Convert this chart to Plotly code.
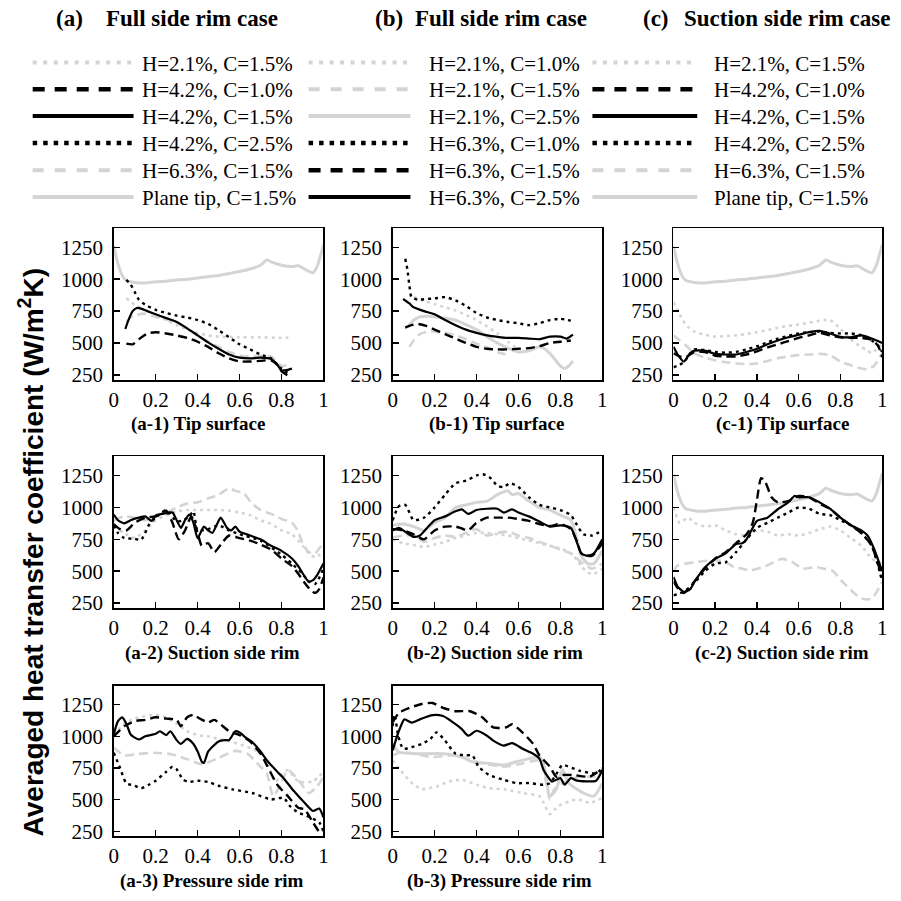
import plotly.graph_objects as go

# ---------------- data ----------------
X_TICKS = [0, 0.2, 0.4, 0.6, 0.8, 1]
X_TICK_TEXT = ["0", "0.2", "0.4", "0.6", "0.8", "1"]
Y_TICKS = [250, 500, 750, 1000, 1250]
Y_TICK_TEXT = ["250", "500", "750", "1000", "1250"]

LEGEND_A = ["H=2.1%, C=1.5%", "H=4.2%, C=1.0%", "H=4.2%, C=1.5%",
            "H=4.2%, C=2.5%", "H=6.3%, C=1.5%", "Plane tip, C=1.5%"]
LEGEND_B = ["H=2.1%, C=1.0%", "H=2.1%, C=1.5%", "H=2.1%, C=2.5%",
            "H=6.3%, C=1.0%", "H=6.3%, C=1.5%", "H=6.3%, C=2.5%"]
LEGEND_C = ["H=2.1%, C=1.5%", "H=4.2%, C=1.0%", "H=4.2%, C=1.5%",
            "H=4.2%, C=2.5%", "H=6.3%, C=1.5%", "Plane tip, C=1.5%"]

# plane tip, tip surface (same curve in a-1, c-1, c-2)
PLANE_X = [0, 0.02, 0.04, 0.06, 0.1, 0.15, 0.2, 0.25, 0.3, 0.35, 0.4, 0.45, 0.5, 0.55,
           0.6, 0.65, 0.7, 0.73, 0.76, 0.8, 0.85, 0.88, 0.92, 0.95, 0.97, 1.0]
PLANE_Y = [1260, 1120, 1030, 990, 975, 970, 980, 985, 995, 1000, 1010, 1020, 1030, 1045,
           1060, 1080, 1110, 1150, 1130, 1110, 1100, 1105, 1070, 1050, 1100, 1270]

# (a-1) tip surface
A1_GDOT_X = [0.06, 0.1, 0.15, 0.2, 0.25, 0.3, 0.35, 0.4, 0.45, 0.5, 0.6, 0.7, 0.8, 0.85]
A1_GDOT_Y = [850, 800, 760, 720, 680, 640, 605, 580, 560, 550, 545, 545, 540, 545]
A1_BDASH_X = [0.06, 0.09, 0.12, 0.16, 0.2, 0.25, 0.3, 0.35, 0.4, 0.45, 0.5, 0.55, 0.6, 0.65,
              0.7, 0.75, 0.78, 0.8, 0.83]
A1_BDASH_Y = [495, 490, 530, 575, 585, 575, 560, 540, 510, 470, 420, 380, 355, 355,
              360, 365, 330, 280, 245]
A1_BSOLID_X = [0.055, 0.07, 0.09, 0.11, 0.13, 0.16, 0.2, 0.25, 0.3, 0.35, 0.4, 0.45, 0.5,
               0.55, 0.6, 0.65, 0.7, 0.75, 0.78, 0.8, 0.83, 0.85]
A1_BSOLID_Y = [610, 680, 750, 775, 770, 750, 725, 695, 665, 615, 560, 505, 455,
               410, 385, 380, 385, 375, 330, 285, 290, 300]
A1_BDOT_X = [0.06, 0.08, 0.1, 0.12, 0.15, 0.2, 0.25, 0.3, 0.35, 0.4, 0.45, 0.5, 0.55, 0.6,
             0.65, 0.7, 0.75, 0.8, 0.84]
A1_BDOT_Y = [995, 960, 900, 840, 800, 760, 735, 715, 700, 680, 650, 600, 545, 490,
             450, 410, 380, 300, 255]
A1_GDASH_X = [0.06, 0.08, 0.11, 0.15, 0.2, 0.25, 0.3, 0.35, 0.4, 0.45, 0.5, 0.55, 0.6, 0.65,
              0.7, 0.75, 0.8, 0.83]
A1_GDASH_Y = [660, 700, 720, 730, 705, 685, 660, 610, 560, 510, 470, 430, 400, 395,
              400, 395, 320, 330]

# (b-1) tip surface
B1_GDOT_X = [0.1, 0.15, 0.2, 0.25, 0.3, 0.35, 0.4, 0.45, 0.5, 0.55, 0.6]
B1_GDOT_Y = [860, 830, 805, 780, 755, 720, 680, 630, 575, 510, 450]
B1_GDASH_X = [0.08, 0.1, 0.13, 0.17, 0.2, 0.25, 0.3, 0.35, 0.4, 0.45, 0.5, 0.55]
B1_GDASH_Y = [470, 520, 570, 590, 590, 580, 560, 530, 495, 465, 430, 405]
B1_GSOLID_X = [0.075, 0.1, 0.13, 0.17, 0.2, 0.25, 0.3, 0.35, 0.4, 0.45, 0.5, 0.55, 0.6,
               0.65, 0.7, 0.73, 0.76, 0.8, 0.82, 0.84, 0.86]
B1_GSOLID_Y = [630, 680, 705, 710, 705, 695, 680, 645, 605, 550, 500, 460, 430,
               440, 470, 450, 400, 320, 300, 320, 360]
B1_BDOT_X = [0.06, 0.07, 0.08, 0.09, 0.12, 0.16, 0.2, 0.25, 0.3, 0.35, 0.4, 0.45, 0.5,
             0.55, 0.6, 0.65, 0.7, 0.75, 0.8, 0.85]
B1_BDOT_Y = [1160, 1080, 950, 860, 840, 845, 850, 860, 835, 790, 735, 700, 680,
             665, 655, 640, 655, 680, 690, 675]
B1_BDASH_X = [0.06, 0.09, 0.12, 0.16, 0.2, 0.25, 0.3, 0.35, 0.4, 0.45, 0.5, 0.55, 0.6,
              0.65, 0.7, 0.75, 0.8, 0.85]
B1_BDASH_Y = [620, 640, 650, 635, 605, 570, 535, 500, 470, 455, 450, 450, 455,
              460, 475, 500, 510, 520]
B1_BSOLID_X = [0.05, 0.08, 0.1, 0.15, 0.2, 0.25, 0.3, 0.35, 0.4, 0.45, 0.5, 0.55, 0.6,
               0.65, 0.7, 0.75, 0.8, 0.83, 0.86]
B1_BSOLID_Y = [845, 810, 780, 750, 725, 680, 640, 605, 580, 560, 548, 540, 540,
               535, 530, 550, 550, 535, 565]

# (c-1) tip surface
C1_GDOT_X = [0, 0.02, 0.04, 0.07, 0.1, 0.15, 0.2, 0.25, 0.3, 0.35, 0.4, 0.45, 0.5, 0.55,
             0.6, 0.65, 0.7, 0.75, 0.8, 0.85, 0.9, 0.93, 0.95, 0.97, 1.0]
C1_GDOT_Y = [820, 760, 690, 625, 590, 565, 550, 555, 560, 570, 585, 600, 620, 635,
             645, 660, 675, 680, 610, 525, 470, 440, 420, 445, 495]
C1_BDASH_X = [0, 0.03, 0.06, 0.1, 0.15, 0.2, 0.25, 0.3, 0.35, 0.4, 0.45, 0.5, 0.55, 0.6,
              0.65, 0.7, 0.75, 0.8, 0.85, 0.9, 0.95, 0.98, 1.0]
C1_BDASH_Y = [420, 395, 390, 430, 430, 400, 395, 395, 410, 435, 465, 490, 515, 540,
              560, 580, 560, 545, 540, 540, 525, 480, 390]
C1_BSOLID_X = [0, 0.02, 0.05, 0.08, 0.1, 0.15, 0.2, 0.25, 0.3, 0.35, 0.4, 0.45, 0.5, 0.55,
               0.6, 0.65, 0.7, 0.75, 0.8, 0.85, 0.9, 0.95, 1.0]
C1_BSOLID_Y = [470, 410, 355, 420, 440, 440, 415, 410, 410, 430, 455, 490, 520, 545,
               565, 585, 595, 575, 548, 545, 560, 535, 500]
C1_BDOT_X = [0, 0.03, 0.05, 0.08, 0.1, 0.15, 0.2, 0.25, 0.3, 0.35, 0.4, 0.45, 0.5, 0.55,
             0.6, 0.65, 0.7, 0.75, 0.8, 0.85, 0.9, 0.95, 0.98, 1.0]
C1_BDOT_Y = [310, 330, 350, 420, 450, 445, 430, 425, 430, 450, 475, 505, 535, 555,
             575, 585, 590, 580, 575, 575, 560, 520, 480, 430]
C1_GDASH_X = [0, 0.03, 0.06, 0.1, 0.15, 0.2, 0.25, 0.3, 0.35, 0.4, 0.45, 0.5, 0.55, 0.6,
              0.65, 0.7, 0.75, 0.8, 0.85, 0.9, 0.93, 0.96, 1.0]
C1_GDASH_Y = [560, 520, 480, 420, 385, 365, 350, 340, 335, 340, 360, 380, 395, 405,
              410, 415, 405, 355, 325, 300, 295, 320, 420]

# (a-2) suction side rim
A2_GDOT_X = [0, 0.05, 0.1, 0.15, 0.2, 0.25, 0.3, 0.35, 0.4, 0.45, 0.5, 0.55, 0.6, 0.65,
             0.7, 0.75, 0.8, 0.85, 0.9, 0.93, 0.96, 1.0]
A2_GDOT_Y = [850, 800, 760, 820, 900, 940, 970, 980, 980, 980, 980, 975, 960, 940,
             900, 870, 820, 790, 700, 640, 610, 650]
A2_BDASH_X = [0, 0.03, 0.06, 0.1, 0.15, 0.2, 0.23, 0.25, 0.28, 0.31, 0.34, 0.37, 0.4, 0.42,
              0.45, 0.48, 0.52, 0.55, 0.6, 0.65, 0.7, 0.75, 0.8, 0.85, 0.88, 0.91, 0.94,
              0.96, 0.98, 1.0]
A2_BDASH_Y = [870, 830, 820, 880, 920, 930, 960, 975, 880, 750, 820, 930, 800, 700,
              720, 650, 730, 780, 760, 740, 710, 670, 600, 540, 480, 410, 350,
              330, 360, 450]
A2_BSOLID_X = [0, 0.02, 0.05, 0.08, 0.12, 0.15, 0.18, 0.2, 0.25, 0.28, 0.3, 0.32, 0.34,
               0.36, 0.38, 0.4, 0.43, 0.45, 0.47, 0.49, 0.51, 0.54, 0.56, 0.58, 0.6, 0.65,
               0.7, 0.75, 0.8, 0.85, 0.88, 0.91, 0.93, 0.95, 0.97, 1.0]
A2_BSOLID_Y = [945, 900, 875, 900, 920, 930, 895, 935, 955, 960, 900, 840, 900,
               945, 880, 760, 850, 820, 800, 860, 920, 840, 820, 850, 810, 780,
               750, 700, 660, 600, 540, 460, 420, 430, 470, 560]
A2_BDOT_X = [0, 0.02, 0.05, 0.1, 0.13, 0.17, 0.2, 0.25, 0.3, 0.33, 0.36, 0.38, 0.4, 0.45,
             0.5, 0.55, 0.6, 0.7, 0.8, 0.85, 0.9, 0.93, 0.96, 1.0]
A2_BDOT_Y = [860, 800, 760, 755, 745, 870, 920, 980, 890, 900, 930, 970, 820, 830,
             860, 820, 790, 740, 630, 560, 480, 420, 400, 520]
A2_GDASH_X = [0, 0.05, 0.1, 0.15, 0.2, 0.25, 0.3, 0.35, 0.4, 0.45, 0.5, 0.55, 0.58, 0.62,
              0.66, 0.7, 0.75, 0.8, 0.85, 0.88, 0.9, 0.93, 0.96, 1.0]
A2_GDASH_Y = [900, 930, 920, 900, 940, 960, 1000, 1030, 1040, 1070, 1100, 1150, 1130, 1110,
              1030, 980, 950, 910, 880, 810, 720, 650, 640, 730]

# (b-2) suction side rim
B2_GDOT_X = [0, 0.05, 0.1, 0.15, 0.2, 0.25, 0.3, 0.35, 0.4, 0.45, 0.5, 0.55, 0.6, 0.65,
             0.7, 0.75, 0.8, 0.85, 0.88, 0.9, 0.93, 0.96, 1.0]
B2_GDOT_Y = [750, 720, 705, 690, 710, 730, 760, 780, 800, 800, 790, 780, 760, 740,
             720, 700, 680, 640, 590, 540, 490, 480, 520]
B2_GDASH_X = [0, 0.05, 0.1, 0.15, 0.2, 0.25, 0.3, 0.35, 0.4, 0.45, 0.5, 0.55, 0.6, 0.65,
              0.7, 0.75, 0.8, 0.85, 0.9, 0.95, 1.0]
B2_GDASH_Y = [765, 780, 780, 730, 760, 780, 770, 800, 830, 780, 800, 810, 780, 760,
              730, 700, 670, 640, 570, 520, 560]
B2_GSOLID_X = [0, 0.05, 0.1, 0.15, 0.2, 0.25, 0.3, 0.35, 0.4, 0.45, 0.5, 0.55, 0.57, 0.6,
               0.65, 0.7, 0.75, 0.8, 0.85, 0.88, 0.9, 0.93, 0.96, 1.0]
B2_GSOLID_Y = [860, 870, 850, 820, 880, 920, 1000, 1020, 1040, 1050, 1100, 1130, 1100, 1110,
               1050, 1000, 980, 940, 900, 750, 620, 560, 560, 660]
B2_BDOT_X = [0, 0.03, 0.06, 0.08, 0.1, 0.15, 0.2, 0.25, 0.3, 0.35, 0.4, 0.43, 0.46, 0.5,
             0.53, 0.56, 0.6, 0.65, 0.7, 0.75, 0.8, 0.85, 0.88, 0.91, 0.95, 1.0]
B2_BDOT_Y = [900, 1010, 1020, 960, 900, 920, 1000, 1100, 1190, 1210, 1250, 1260, 1240, 1170,
             1160, 1190, 1160, 1080, 1020, 1000, 980, 940, 860, 790, 780, 820]
B2_BDASH_X = [0, 0.05, 0.1, 0.15, 0.2, 0.25, 0.3, 0.33, 0.36, 0.4, 0.45, 0.5, 0.55, 0.6,
              0.65, 0.7, 0.75, 0.8, 0.85, 0.88, 0.9, 0.95, 1.0]
B2_BDASH_Y = [830, 820, 790, 750, 820, 850, 850, 835, 820, 880, 920, 920, 920, 910,
              895, 870, 855, 870, 830, 730, 640, 620, 720]
B2_BSOLID_X = [0, 0.03, 0.06, 0.1, 0.13, 0.17, 0.2, 0.25, 0.3, 0.33, 0.36, 0.4, 0.45, 0.5,
               0.53, 0.57, 0.6, 0.65, 0.7, 0.75, 0.8, 0.85, 0.88, 0.9, 0.93, 0.96, 1.0]
B2_BSOLID_Y = [820, 840, 810, 770, 780, 850, 900, 930, 970, 985, 950, 980, 990, 990,
               960, 985, 960, 930, 890, 850, 860, 840, 720, 640, 620, 640, 750]

# (c-2) suction side rim
C2_GDOT_X = [0, 0.03, 0.07, 0.1, 0.15, 0.2, 0.25, 0.3, 0.35, 0.4, 0.45, 0.5, 0.55, 0.6,
             0.65, 0.7, 0.75, 0.8, 0.85, 0.9, 0.95, 1.0]
C2_GDOT_Y = [1000, 880, 920, 880, 850, 860, 820, 790, 780, 820, 810, 780, 790, 780,
             800, 830, 850, 820, 760, 700, 600, 560]
C2_BDASH_X = [0, 0.02, 0.05, 0.1, 0.15, 0.2, 0.25, 0.3, 0.35, 0.38, 0.4, 0.42, 0.44, 0.47,
              0.5, 0.55, 0.6, 0.65, 0.7, 0.75, 0.8, 0.85, 0.9, 0.95, 0.98, 1.0]
C2_BDASH_Y = [420, 370, 330, 420, 520, 600, 650, 720, 790, 880, 1060, 1230, 1200, 1080,
              1040, 1050, 1090, 1080, 1030, 990, 920, 860, 800, 700, 560, 450]
C2_BSOLID_X = [0, 0.02, 0.05, 0.08, 0.1, 0.15, 0.2, 0.25, 0.3, 0.33, 0.35, 0.4, 0.43, 0.45,
               0.5, 0.55, 0.58, 0.6, 0.65, 0.7, 0.75, 0.8, 0.85, 0.9, 0.93, 0.96, 1.0]
C2_BSOLID_Y = [455, 380, 338, 360, 416, 530, 597, 640, 714, 720, 750, 895, 910, 920,
               986, 1040, 1090, 1080, 1080, 1040, 990, 920, 860, 820, 780, 680, 500]
C2_BDOT_X = [0, 0.05, 0.1, 0.15, 0.2, 0.25, 0.3, 0.35, 0.4, 0.45, 0.5, 0.55, 0.6, 0.65,
             0.7, 0.75, 0.8, 0.85, 0.9, 0.95, 1.0]
C2_BDOT_Y = [310, 340, 410, 500, 560, 570, 650, 750, 840, 880, 920, 960, 1000, 990,
             950, 940, 900, 860, 800, 700, 420]
C2_GDASH_X = [0, 0.02, 0.1, 0.18, 0.24, 0.29, 0.33, 0.37, 0.43, 0.48, 0.52, 0.57, 0.62,
              0.68, 0.72, 0.76, 0.81, 0.86, 0.9, 0.95, 1.0]
C2_GDASH_Y = [500, 545, 570, 585, 580, 533, 520, 507, 533, 570, 597, 571, 520,
              533, 520, 507, 416, 338, 286, 286, 416]

# (a-3) pressure side rim
A3_GDOT_X = [0, 0.05, 0.1, 0.15, 0.2, 0.25, 0.3, 0.35, 0.4, 0.45, 0.5, 0.57, 0.66, 0.71,
             0.74, 0.77, 0.8, 0.83, 0.88, 0.95, 1.0]
A3_GDOT_Y = [1010, 1100, 1140, 1160, 1170, 1150, 1100, 1040, 1010, 1000, 980, 953, 902, 863,
             760, 640, 700, 734, 644, 644, 721]
A3_BDASH_X = [0, 0.05, 0.1, 0.15, 0.2, 0.25, 0.3, 0.32, 0.35, 0.38, 0.4, 0.45, 0.48, 0.52,
              0.55, 0.6, 0.65, 0.7, 0.73, 0.78, 0.83, 0.88, 0.91, 0.95, 0.99]
A3_BDASH_Y = [1000, 1080, 1120, 1130, 1150, 1140, 1130, 1080, 1150, 1170, 1150, 1110, 1130, 1080,
              1040, 1010, 960, 863, 773, 618, 528, 437, 424, 321, 218]
A3_BSOLID_X = [0, 0.02, 0.04, 0.06, 0.08, 0.1, 0.12, 0.15, 0.2, 0.22, 0.25, 0.27, 0.3, 0.32,
               0.35, 0.38, 0.4, 0.42, 0.43, 0.45, 0.5, 0.53, 0.55, 0.58, 0.6, 0.63, 0.66,
               0.7, 0.73, 0.78, 0.81, 0.86, 0.91, 0.95, 0.98, 1.0]
A3_BSOLID_Y = [1016, 1120, 1150, 1100, 1016, 990, 975, 1000, 1020, 1040, 1010, 1040, 970, 940,
               980, 940, 880, 800, 790, 880, 960, 970, 970, 1040, 1030, 990, 955,
               880, 811, 721, 670, 566, 476, 411, 430, 360]
A3_BDOT_X = [0, 0.03, 0.06, 0.1, 0.13, 0.17, 0.2, 0.25, 0.28, 0.3, 0.33, 0.36, 0.4, 0.45,
             0.5, 0.57, 0.66, 0.75, 0.81, 0.84, 0.88, 0.92, 0.98, 1.0]
A3_BDOT_Y = [870, 750, 630, 610, 590, 620, 650, 720, 760, 740, 660, 640, 650, 640,
             610, 580, 553, 502, 515, 450, 398, 373, 321, 250]
A3_GDASH_X = [0, 0.05, 0.11, 0.19, 0.27, 0.35, 0.42, 0.5, 0.58, 0.64, 0.7, 0.73, 0.76,
              0.79, 0.83, 0.88, 0.93, 0.97, 1.0]
A3_GDASH_Y = [910, 850, 860, 870, 860, 820, 780, 830, 885, 860, 760, 708, 528,
              600, 734, 657, 553, 605, 682]

# (b-3) pressure side rim
B3_GDOT_X = [0, 0.05, 0.1, 0.14, 0.21, 0.27, 0.33, 0.4, 0.46, 0.54, 0.62, 0.7, 0.72, 0.75,
             0.79, 0.88, 0.94, 1.0]
B3_GDOT_Y = [811, 708, 618, 584, 605, 644, 657, 618, 592, 580, 553, 528, 476, 386,
             450, 502, 476, 515]
B3_GDASH_X = [0, 0.05, 0.18, 0.3, 0.43, 0.53, 0.62, 0.7, 0.72, 0.75, 0.77, 0.81, 0.89,
              0.96, 1.0]
B3_GDASH_Y = [850, 876, 837, 850, 786, 760, 786, 811, 734, 502, 580, 631, 682,
              682, 734]
B3_GSOLID_X = [0, 0.03, 0.11, 0.24, 0.33, 0.38, 0.46, 0.53, 0.59, 0.65, 0.7, 0.72, 0.75,
               0.78, 0.81, 0.84, 0.91, 0.96, 1.0]
B3_GSOLID_Y = [940, 876, 863, 863, 837, 799, 786, 773, 799, 824, 837, 786, 528,
               580, 739, 631, 553, 528, 631]
B3_BDOT_X = [0, 0.01, 0.025, 0.05, 0.09, 0.14, 0.18, 0.21, 0.25, 0.3, 0.35, 0.38, 0.41,
             0.46, 0.53, 0.59, 0.65, 0.72, 0.75, 0.78, 0.81, 0.89, 0.97, 1.0]
B3_BDOT_Y = [1080, 1172, 1018, 902, 915, 940, 979, 1031, 966, 863, 850, 850, 760,
             695, 657, 631, 631, 618, 631, 700, 773, 729, 708, 747]
B3_BDASH_X = [0, 0.03, 0.08, 0.14, 0.19, 0.24, 0.3, 0.37, 0.43, 0.48, 0.54, 0.57, 0.62,
              0.67, 0.7, 0.75, 0.78, 0.81, 0.86, 0.94, 1.0]
B3_BDASH_Y = [1110, 1185, 1225, 1255, 1263, 1225, 1198, 1198, 1147, 1070, 1070, 1095, 1030,
              940, 850, 760, 682, 695, 695, 682, 747]
B3_BSOLID_X = [0, 0.03, 0.056, 0.09, 0.13, 0.19, 0.24, 0.29, 0.33, 0.36, 0.4, 0.45, 0.48,
               0.53, 0.57, 0.62, 0.67, 0.7, 0.72, 0.74, 0.76, 0.8, 0.82, 0.85, 0.88, 0.97, 1.0]
B3_BSOLID_Y = [889, 1044, 1134, 1108, 1134, 1167, 1160, 1108, 1057, 1005, 1044, 1005, 966,
               927, 946, 902, 863, 824, 734, 682, 643, 670, 618, 670, 650, 650, 734]

# ---------------- styling ----------------
W, H = 901, 901
GREY = "#d4d4d4"
BLACK = "#000000"
SERIF = "Liberation Serif, Times New Roman, serif"
SANS = "Liberation Sans, Arial, sans-serif"

STYLE = {
    "gdot":   dict(color=GREY, width=2.6, dash="3px,4px"),
    "gdash":  dict(color=GREY, width=2.6, dash="9px,5px"),
    "gsolid": dict(color=GREY, width=3.0, dash="solid"),
    "bdot":   dict(color=BLACK, width=2.4, dash="3px,4px"),
    "bdash":  dict(color=BLACK, width=2.4, dash="9px,5px"),
    "bsolid": dict(color=BLACK, width=2.2, dash="solid"),
}
LEG_STYLE = {
    "gdot":   dict(color=GREY, width=4, dash="4px,6.5px"),
    "gdash":  dict(color=GREY, width=4, dash="11px,11px"),
    "gsolid": dict(color=GREY, width=4, dash="solid"),
    "bdot":   dict(color=BLACK, width=4.5, dash="4.5px,6px"),
    "bdash":  dict(color=BLACK, width=4.5, dash="12px,10px"),
    "bsolid": dict(color=BLACK, width=4, dash="solid"),
}
LEG_STYLES_A = ["gdot", "bdash", "bsolid", "bdot", "gdash", "gsolid"]
LEG_STYLES_B = ["gdot", "gdash", "gsolid", "bdot", "bdash", "bsolid"]
LEG_STYLES_C = ["gdot", "bdash", "bsolid", "bdot", "gdash", "gsolid"]


def px_x(v):
    return v / W


def px_y(v):
    return 1 - v / H


COLS = {"a": (110, 322), "b": (392, 604), "c": (676, 887)}
ROWS = {1: (230, 383), 2: (460, 613), 3: (691, 843)}

PANELS = [
    ("a", 1, "(a-1) Tip surface", 195, [
        ("gdot", A1_GDOT_X, A1_GDOT_Y), ("gdash", A1_GDASH_X, A1_GDASH_Y),
        ("gsolid", PLANE_X, PLANE_Y), ("bdash", A1_BDASH_X, A1_BDASH_Y),
        ("bdot", A1_BDOT_X, A1_BDOT_Y), ("bsolid", A1_BSOLID_X, A1_BSOLID_Y)]),
    ("b", 1, "(b-1) Tip surface", 497, [
        ("gdot", B1_GDOT_X, B1_GDOT_Y), ("gdash", B1_GDASH_X, B1_GDASH_Y),
        ("gsolid", B1_GSOLID_X, B1_GSOLID_Y), ("bdash", B1_BDASH_X, B1_BDASH_Y),
        ("bdot", B1_BDOT_X, B1_BDOT_Y), ("bsolid", B1_BSOLID_X, B1_BSOLID_Y)]),
    ("c", 1, "(c-1) Tip surface", 786, [
        ("gdot", C1_GDOT_X, C1_GDOT_Y), ("gdash", C1_GDASH_X, C1_GDASH_Y),
        ("gsolid", PLANE_X, PLANE_Y), ("bdash", C1_BDASH_X, C1_BDASH_Y),
        ("bdot", C1_BDOT_X, C1_BDOT_Y), ("bsolid", C1_BSOLID_X, C1_BSOLID_Y)]),
    ("a", 2, "(a-2) Suction side rim", 210, [
        ("gdot", A2_GDOT_X, A2_GDOT_Y), ("gdash", A2_GDASH_X, A2_GDASH_Y),
        ("bdash", A2_BDASH_X, A2_BDASH_Y), ("bdot", A2_BDOT_X, A2_BDOT_Y),
        ("bsolid", A2_BSOLID_X, A2_BSOLID_Y)]),
    ("b", 2, "(b-2) Suction side rim", 495, [
        ("gdot", B2_GDOT_X, B2_GDOT_Y), ("gdash", B2_GDASH_X, B2_GDASH_Y),
        ("gsolid", B2_GSOLID_X, B2_GSOLID_Y), ("bdash", B2_BDASH_X, B2_BDASH_Y),
        ("bdot", B2_BDOT_X, B2_BDOT_Y), ("bsolid", B2_BSOLID_X, B2_BSOLID_Y)]),
    ("c", 2, "(c-2) Suction side rim", 786, [
        ("gdot", C2_GDOT_X, C2_GDOT_Y), ("gdash", C2_GDASH_X, C2_GDASH_Y),
        ("gsolid", PLANE_X, PLANE_Y), ("bdash", C2_BDASH_X, C2_BDASH_Y),
        ("bdot", C2_BDOT_X, C2_BDOT_Y), ("bsolid", C2_BSOLID_X, C2_BSOLID_Y)]),
    ("a", 3, "(a-3) Pressure side rim", 209, [
        ("gdot", A3_GDOT_X, A3_GDOT_Y), ("gdash", A3_GDASH_X, A3_GDASH_Y),
        ("bdash", A3_BDASH_X, A3_BDASH_Y), ("bdot", A3_BDOT_X, A3_BDOT_Y),
        ("bsolid", A3_BSOLID_X, A3_BSOLID_Y)]),
    ("b", 3, "(b-3) Pressure side rim", 500, [
        ("gdot", B3_GDOT_X, B3_GDOT_Y), ("gdash", B3_GDASH_X, B3_GDASH_Y),
        ("gsolid", B3_GSOLID_X, B3_GSOLID_Y), ("bdash", B3_BDASH_X, B3_BDASH_Y),
        ("bdot", B3_BDOT_X, B3_BDOT_Y), ("bsolid", B3_BSOLID_X, B3_BSOLID_Y)]),
]
TITLE_Y = {1: 427, 2: 658, 3: 888}

fig = go.Figure()
layout = dict(
    width=W, height=H, autosize=False,
    margin=dict(l=0, r=0, t=0, b=0, pad=0),
    paper_bgcolor="white", plot_bgcolor="white",
    showlegend=False,
    font=dict(family=SERIF, size=21, color="black"),
)
annotations = []
shapes = []

axis_common = dict(
    showline=True, linecolor="black", linewidth=1.5, mirror=True,
    ticks="inside", ticklen=6, tickwidth=1.5, tickcolor="black",
    showgrid=False, zeroline=False,
    tickfont=dict(family=SERIF, size=21, color="black"),
)

for i, (col, row, title, title_x, series) in enumerate(PANELS, start=1):
    sx = "" if i == 1 else str(i)
    x0, x1 = COLS[col]
    y0, y1 = ROWS[row]
    layout["xaxis" + sx] = dict(
        domain=[px_x(x0), px_x(x1)], range=[0, 1], anchor="y" + sx,
        tickvals=X_TICKS, ticktext=X_TICK_TEXT, **axis_common)
    layout["yaxis" + sx] = dict(
        domain=[px_y(y1), px_y(y0)], range=[210, 1400], anchor="x" + sx,
        tickvals=Y_TICKS, ticktext=Y_TICK_TEXT, ticklabelstandoff=5, **axis_common)
    for style, xs, ys in series:
        st = STYLE[style]
        fig.add_trace(go.Scatter(
            x=xs, y=ys, mode="lines", xaxis="x" + sx, yaxis="y" + sx,
            line=dict(color=st["color"], width=st["width"], dash=st["dash"], shape="spline",
                      smoothing=0.6),
            hoverinfo="skip", showlegend=False))
    annotations.append(dict(
        text="<b>" + title + "</b>", x=px_x(title_x), y=px_y(TITLE_Y[row]),
        xref="paper", yref="paper", xanchor="center", yanchor="middle",
        showarrow=False, font=dict(family=SERIF, size=19, color="black")))

# column headers
HEADERS = [(50, "(a)"), (100, "Full side rim case"), (372, "(b)"), (413, "Full side rim case"),
           (643, "(c)"), (685, "Suction side rim case")]
for hx, htxt in HEADERS:
    annotations.append(dict(
        text="<b>" + htxt + "</b>", x=px_x(hx), y=px_y(19), xref="paper", yref="paper",
        xanchor="left", yanchor="middle", showarrow=False,
        font=dict(family=SERIF, size=23, color="black")))

# legends (three columns, long line samples)
LEG_ROWS = [63, 90, 117, 144, 171.5, 198.5]
LEG_COLS = [((28, 130), 137, LEGEND_A, LEG_STYLES_A),
            ((307, 410), 427, LEGEND_B, LEG_STYLES_B),
            ((594, 700), 715, LEGEND_C, LEG_STYLES_C)]
for (lx0, lx1), tx, labels, styles in LEG_COLS:
    for ly, lab, sty in zip(LEG_ROWS, labels, styles):
        st = LEG_STYLE[sty]
        shapes.append(dict(
            type="line", xref="paper", yref="paper",
            x0=px_x(lx0), x1=px_x(lx1), y0=px_y(ly), y1=px_y(ly),
            line=dict(color=st["color"], width=st["width"], dash=st["dash"])))
        annotations.append(dict(
            text=lab, x=px_x(tx), y=px_y(ly + 1), xref="paper", yref="paper",
            xanchor="left", yanchor="middle", showarrow=False,
            font=dict(family=SERIF, size=21, color="black")))

# shared y-axis title
annotations.append(dict(
    text="<b>Averaged heat transfer coefficient (W/m<sup>2</sup>K)</b>",
    x=px_x(26), y=px_y(557), xref="paper", yref="paper",
    xanchor="center", yanchor="middle", textangle=-90, showarrow=False,
    font=dict(family=SANS, size=28, color="black")))

layout["annotations"] = annotations
layout["shapes"] = shapes
fig.update_layout(**layout)

fig.write_html("out.html", config={"displayModeBar": False, "staticPlot": True},
               post_script="document.body.style.margin='0';")
